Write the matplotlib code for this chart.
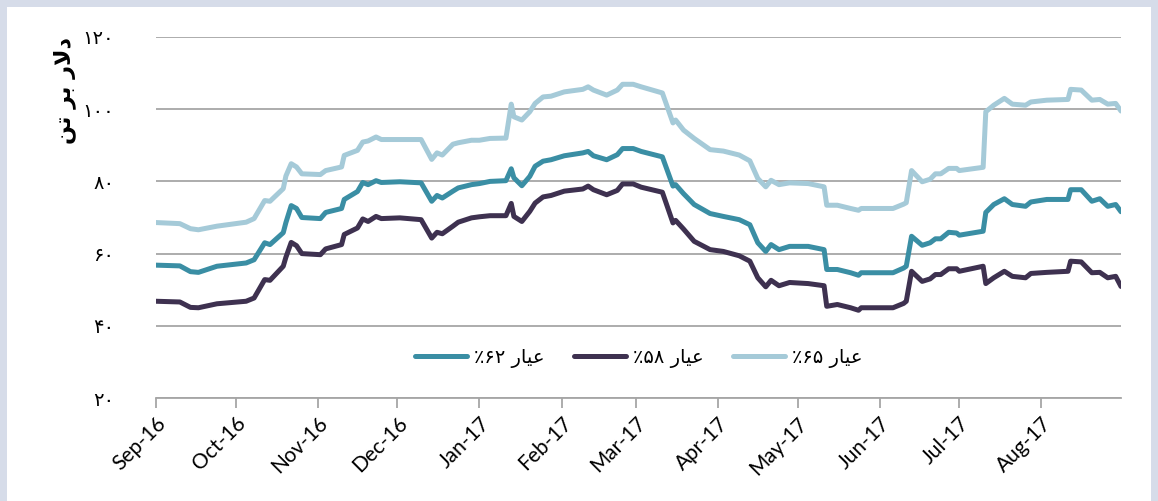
import matplotlib
matplotlib.use("Agg")
import matplotlib.pyplot as plt
import matplotlib.dates as mdates
import pandas as pd
from matplotlib.patches import Rectangle

# sample dates (Sep-2016 .. Aug-2017)
dates = [
    "2016-09-01", "2016-09-10", "2016-09-14", "2016-09-17", "2016-09-24",
    "2016-10-05", "2016-10-08", "2016-10-12", "2016-10-14", "2016-10-19", "2016-10-20", "2016-10-22", "2016-10-24", "2016-10-26",
    "2016-11-02", "2016-11-04", "2016-11-10", "2016-11-11", "2016-11-16", "2016-11-18", "2016-11-20", "2016-11-23", "2016-11-25",
    "2016-12-02", "2016-12-10", "2016-12-14", "2016-12-16", "2016-12-18", "2016-12-22", "2016-12-24", "2016-12-29",
    "2017-01-01", "2017-01-05", "2017-01-11", "2017-01-13", "2017-01-14", "2017-01-17", "2017-01-20", "2017-01-22", "2017-01-25", "2017-01-28",
    "2017-02-02", "2017-02-09", "2017-02-11", "2017-02-13", "2017-02-18", "2017-02-22", "2017-02-24", "2017-02-28",
    "2017-03-03", "2017-03-11", "2017-03-15", "2017-03-16", "2017-03-19", "2017-03-23", "2017-03-29",
    "2017-04-03", "2017-04-09", "2017-04-13", "2017-04-16", "2017-04-19", "2017-04-21", "2017-04-24", "2017-04-28",
    "2017-05-05", "2017-05-11", "2017-05-12", "2017-05-16", "2017-05-21", "2017-05-24", "2017-05-25",
    "2017-06-01", "2017-06-06", "2017-06-10", "2017-06-11", "2017-06-13", "2017-06-17", "2017-06-20", "2017-06-22", "2017-06-24", "2017-06-27", "2017-06-30",
    "2017-07-01", "2017-07-10", "2017-07-11", "2017-07-14", "2017-07-18", "2017-07-21", "2017-07-26", "2017-07-28",
    "2017-08-03", "2017-08-11", "2017-08-12", "2017-08-16", "2017-08-20", "2017-08-23", "2017-08-26", "2017-08-29", "2017-08-31",
]

fe62 = [
    56.8, 56.6, 55.0, 54.8, 56.5,
    57.4, 58.3, 63.0, 62.5, 65.8, 68.6, 73.3, 72.5, 70.0,
    69.7, 71.4, 72.5, 75.0, 77.2, 79.7, 79.1, 80.2, 79.7,
    79.9, 79.6, 74.5, 76.1, 75.4, 77.3, 78.2, 79.1,
    79.4, 80.0, 80.2, 83.5, 81.0, 78.8, 81.4, 84.2, 85.6, 86.0,
    87.1, 87.9, 88.3, 87.1, 86.0, 87.4, 89.1, 89.1,
    88.3, 86.8, 78.7, 79.1, 76.6, 73.6, 71.1,
    70.3, 69.4, 68.0, 63.0, 60.6, 62.5, 61.1, 62.0,
    62.0, 61.1, 55.6, 55.6, 54.7, 54.0, 54.7,
    54.7, 54.7, 56.0, 56.5, 64.8, 62.3, 63.0, 64.1, 64.1, 65.9, 65.7,
    65.1, 66.2, 71.4, 73.6, 75.2, 73.6, 73.1, 74.3,
    75.0, 75.0, 77.7, 77.7, 74.5, 75.2, 73.1, 73.6, 71.6,
]

fe58 = [
    46.8, 46.6, 45.1, 45.0, 46.1,
    46.8, 47.7, 52.8, 52.6, 56.5, 59.0, 63.1, 62.2, 60.0,
    59.7, 61.3, 62.5, 65.3, 67.1, 69.6, 68.9, 70.3, 69.7,
    69.9, 69.4, 64.3, 65.9, 65.5, 67.6, 68.7, 69.9,
    70.2, 70.5, 70.5, 73.9, 70.3, 68.9, 71.7, 74.0, 75.7, 76.1,
    77.3, 77.9, 78.7, 77.7, 76.3, 77.5, 79.3, 79.3,
    78.4, 77.0, 68.5, 69.2, 66.8, 63.4, 61.1,
    60.6, 59.4, 57.9, 53.3, 50.8, 52.6, 51.1, 52.0,
    51.7, 51.1, 45.4, 45.9, 45.0, 44.3, 45.0,
    45.0, 45.0, 46.2, 46.8, 55.1, 52.3, 53.0, 54.2, 54.2, 55.8, 55.8,
    55.1, 56.5, 51.7, 53.3, 55.1, 53.7, 53.3, 54.5,
    54.8, 55.1, 57.9, 57.7, 54.7, 54.8, 53.3, 53.7, 50.9,
]

fe65 = [
    68.6, 68.3, 66.9, 66.6, 67.6,
    68.7, 69.7, 74.7, 74.5, 78.0, 81.5, 84.9, 84.0, 82.1,
    81.9, 83.0, 84.0, 87.2, 88.6, 90.9, 91.2, 92.3, 91.6,
    91.6, 91.6, 86.1, 87.9, 87.3, 90.3, 90.7, 91.4,
    91.4, 91.9, 92.0, 101.4, 97.9, 97.0, 99.3, 101.6, 103.4, 103.6,
    104.8, 105.5, 106.2, 105.3, 103.9, 105.3, 106.9, 106.9,
    106.2, 104.5, 96.2, 97.0, 94.2, 91.9, 88.8,
    88.4, 87.3, 85.7, 80.8, 78.5, 80.3, 79.1, 79.6,
    79.4, 78.5, 73.4, 73.4, 72.5, 72.0, 72.5,
    72.5, 72.5, 73.7, 74.1, 83.0, 79.9, 80.6, 82.1, 82.1, 83.6, 83.6,
    83.0, 83.9, 99.3, 101.1, 103.0, 101.4, 101.1, 102.0,
    102.5, 102.7, 105.5, 105.3, 102.5, 102.7, 101.4, 101.6, 99.5,
]

# Persian text given in visual (left-to-right) order with presentation forms
labels = {
    "62": "\u066A\u06F6\u06F2 \uFEAD\uFE8E\uFEF4\uFECB",
    "58": "\u066A\u06F5\u06F8 \uFEAD\uFE8E\uFEF4\uFECB",
    "65": "\u066A\u06F6\u06F5 \uFEAD\uFE8E\uFEF4\uFECB",
}
y_label = "\uFEE6\uFE97 \uFEAE\uFE91 \uFEAD\uFEFB\uFEA9"
y_ticks = [20, 40, 60, 80, 100, 120]
y_tick_labels = ["\u06F2\u06F0", "\u06F4\u06F0", "\u06F6\u06F0",
                 "\u06F8\u06F0", "\u06F1\u06F0\u06F0", "\u06F1\u06F2\u06F0"]

x = pd.to_datetime(dates)

fig = plt.figure(figsize=(11.58, 5.01), dpi=100)
fig.patch.set_facecolor("#D6DCE9")
fig.add_artist(Rectangle((7 / 1158, 0), 1 - 14 / 1158, 1 - 7 / 501,
                         transform=fig.transFigure, facecolor="white",
                         edgecolor="none", zorder=-1))

ax = fig.add_axes([156 / 1158, 103 / 501, 965 / 1158, 361 / 501])
ax.set_facecolor("none")

lw = 3.6
l62, = ax.plot(x, fe62, color="#3A8EA4", lw=lw, solid_capstyle="round", solid_joinstyle="round", label=labels["62"])
l58, = ax.plot(x, fe58, color="#3E3150", lw=lw, solid_capstyle="round", solid_joinstyle="round", label=labels["58"])
l65, = ax.plot(x, fe65, color="#A5CAD8", lw=lw, solid_capstyle="round", solid_joinstyle="round", label=labels["65"])

ax.set_xlim(pd.Timestamp("2016-09-01"), pd.Timestamp("2017-08-31"))
ax.set_ylim(20, 120)
ax.set_yticks(y_ticks)
ax.set_yticklabels(y_tick_labels, fontsize=14, family=["DejaVu Sans"])
ax.yaxis.grid(True, color="#A6A6A6", linewidth=1.3)
ax.set_axisbelow(True)

ax.xaxis.set_major_locator(mdates.MonthLocator())
ax.xaxis.set_major_formatter(mdates.DateFormatter("%b-%y"))
for lab in ax.get_xticklabels():
    lab.set_rotation(45)
    lab.set_ha("right")
    lab.set_rotation_mode("anchor")
    lab.set_fontsize(15)
    lab.set_family("Lato")

for side in ["left", "right", "top"]:
    ax.spines[side].set_visible(False)
ax.spines["bottom"].set_color("#A6A6A6")
ax.spines["bottom"].set_linewidth(1.3)
ax.tick_params(axis="x", direction="out", length=7, width=1.3, color="#A6A6A6", pad=4)
ax.tick_params(axis="y", length=0, pad=30)

ax.text(-0.095, 0.853, y_label, rotation=90, transform=ax.transAxes,
        ha="center", va="center", fontsize=16, fontweight="bold",
        family=["DejaVu Sans"])

ax.legend(handles=[l62, l58, l65], loc="center", bbox_to_anchor=(0.5, 0.111),
          ncol=3, frameon=False, handlelength=2.7, columnspacing=1.5,
          handletextpad=0.35, prop={"family": ["DejaVu Sans"], "size": 14})

fig.savefig("out.png", dpi=100, facecolor=fig.get_facecolor())
